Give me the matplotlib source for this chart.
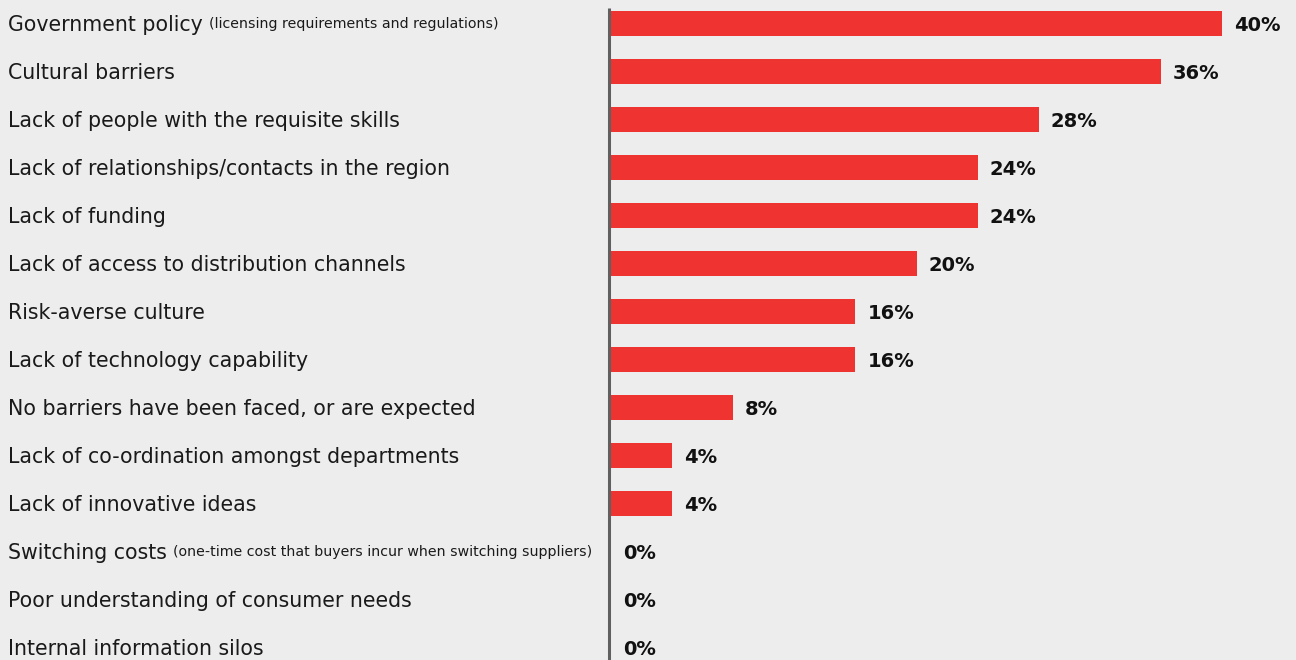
import matplotlib.pyplot as plt
from matplotlib.transforms import blended_transform_factory

labels = [
    "Government policy",
    "Cultural barriers",
    "Lack of people with the requisite skills",
    "Lack of relationships/contacts in the region",
    "Lack of funding",
    "Lack of access to distribution channels",
    "Risk-averse culture",
    "Lack of technology capability",
    "No barriers have been faced, or are expected",
    "Lack of co-ordination amongst departments",
    "Lack of innovative ideas",
    "Switching costs",
    "Poor understanding of consumer needs",
    "Internal information silos",
]
notes = {
    0: "(licensing requirements and regulations)",
    11: "(one-time cost that buyers incur when switching suppliers)",
}
values = [40, 36, 28, 24, 24, 20, 16, 16, 8, 4, 4, 0, 0, 0]

BG = "#ededed"
RED = "#ee3331"
AXIS = "#606060"
TEXT = "#111111"

fig = plt.figure(figsize=(12.96, 6.6), dpi=100, facecolor=BG)
# plot area: starts at the axis line, rows ~48 px apart
ax = fig.add_axes([611 / 1296, 0, 1 - 611 / 1296, 1])
ax.set_facecolor(BG)

rows = list(range(len(labels)))
ax.barh(rows, values, height=0.52, color=RED, zorder=2)

ax.set_xlim(0, 685 / 15.275)
ax.set_ylim(13 + 12.5 / 48.0, -23.5 / 48.0)
ax.axis("off")

# vertical axis line left of the bars
ax.vlines(-0.13, -0.32, 13.5, color=AXIS, linewidth=2.2, clip_on=False, zorder=3)

for i, v in enumerate(values):
    ax.annotate(f"{v}%", (v, i), xytext=(12, 0), textcoords="offset pixels",
                va="center_baseline", ha="left", fontsize=14, fontweight="bold",
                family="DejaVu Sans", color=TEXT)

trans = blended_transform_factory(fig.transFigure, ax.transData)
fig.canvas.draw()
renderer = fig.canvas.get_renderer()
for i, lab in enumerate(labels):
    t = ax.text(8 / 1296, i - 0.02, lab, transform=trans, ha="left",
                va="center_baseline", fontsize=14.8, family="DejaVu Sans",
                color="#1a1a1a")
    if i in notes:
        bb = t.get_window_extent(renderer=renderer)
        ax.text((bb.x1 + 6) / 1296, i - 0.02, notes[i], transform=trans, ha="left",
                va="center_baseline", fontsize=10.2, family="DejaVu Sans",
                color="#1a1a1a")

fig.savefig("out.png", dpi=100, facecolor=BG)
